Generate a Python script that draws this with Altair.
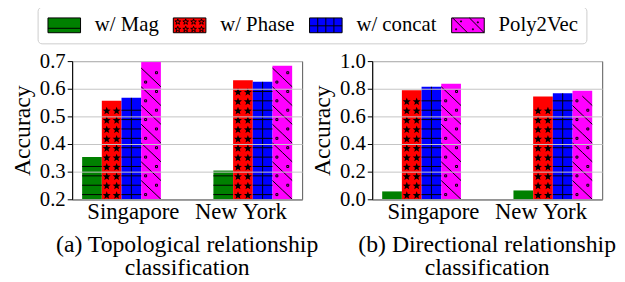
import math
import altair as alt
import pandas as pd

cities = ["Singapore", "New York"]
series = ["w/ Mag", "w/ Phase", "w/ concat", "Poly2Vec"]

topo_mag = [0.353, 0.304]
topo_phase = [0.557, 0.631]
topo_concat = [0.567, 0.625]
topo_poly = [0.699, 0.683]

dir_mag = [0.057, 0.064]
dir_phase = [0.790, 0.743]
dir_concat = [0.814, 0.767]
dir_poly = [0.836, 0.786]

colors = ["#008000", "#ff0000", "#0000ff", "#ff00ff"]

topo_ticks = [0.2, 0.3, 0.4, 0.5, 0.6, 0.7]
dir_ticks = [0.0, 0.2, 0.4, 0.6, 0.8, 1.0]
title_a = ["(a) Topological relationship", "classification"]
title_b = ["(b) Directional relationship", "classification"]

FONT = "Liberation Serif"
W, H = 233, 140
STRIP = 9.5  # hatch strip height in px


def star_path(cx, cy, R, r):
    pts = []
    for i in range(10):
        ang = -math.pi / 2 + i * math.pi / 5
        rad = R if i % 2 == 0 else r
        pts.append((cx + rad * math.cos(ang), cy + rad * math.sin(ang)))
    return "M" + "L".join(f"{x:.3f},{y:.3f}" for x, y in pts) + "Z"


def dot(x, y, d):
    return f"M{x:.3f},{y:.3f}h{d}v{d}h{-d}Z"


# hatch symbols for bars (unit = 10px, symbol size 400 -> 20px wide)
HLINE = "M-1,0H1"
STARS2 = star_path(-0.5, 0.08, 0.42, 0.18) + star_path(0.5, 0.08, 0.42, 0.18)
DIAG_UP = "M-1,-0.475L0,0.475" + dot(0.45, -0.1, 0.2)
DIAG_LO = "M0,-0.475L1,0.475" + dot(-0.65, -0.1, 0.2)

# legend swatches: drawn in px relative to the swatch's top-left corner (33 x 15),
# converted to symbol units (symbol size 225 -> unit 7.5px, centre 8px from entry left)
SW, SH = 33, 15
U, CX = 7.5, 8.0


def px(x, y):
    return f"{(x - CX) / U:.3f},{(y - SH / 2) / U:.3f}"


def swatch(extra):
    rect = f"M{px(0, 0)}L{px(SW, 0)}L{px(SW, SH)}L{px(0, SH)}Z"
    return rect + extra


def pstar(cx, cy, R, r):
    pts = []
    for i in range(10):
        ang = -math.pi / 2 + i * math.pi / 5
        rad = R if i % 2 == 0 else r
        pts.append(px(cx + rad * math.cos(ang), cy + rad * math.sin(ang)))
    return "M" + "L".join(pts) + "Z"


def pdot(x, y):
    return f"M{px(x, y)}L{px(x + 1, y)}L{px(x + 1, y + 1)}L{px(x, y + 1)}Z"


leg_mag = swatch(f"M{px(0, 10.5)}L{px(SW, 10.5)}")
leg_phase = swatch("".join(pstar(cx, cy, 3.0, 1.2) for cy in (4.0, 11.5) for cx in (4.5, 12.5, 20.5, 28.5)))
leg_concat = swatch(f"M{px(8.3, 0)}L{px(8.3, SH)}M{px(16.5, 0)}L{px(16.5, SH)}"
                    f"M{px(24.7, 0)}L{px(24.7, SH)}M{px(0, 8)}L{px(SW, 8)}")
leg_poly = swatch(f"M{px(1, 0)}L{px(16, SH)}M{px(18, 0)}L{px(33, SH)}"
                  + pdot(9, 3) + pdot(26, 4) + pdot(4, 11) + pdot(21, 11))
legend_paths = [leg_mag, leg_phase, leg_concat, leg_poly]

LEG_X, LEG_Y = -35, -55


def panel(vals, base, top, ticks, title_lines, with_legend):
    rows = []
    for s, v in zip(series, vals):
        for c, val in zip(cities, v):
            rows.append({"city": c, "series": s, "value": val})
    df = pd.DataFrame(rows)
    step = (top - base) * STRIP / H

    x = alt.X("city:N", sort=cities, title=None,
              scale=alt.Scale(paddingInner=0.4, paddingOuter=0.076),
              axis=alt.Axis(labelAngle=0, labelFontSize=23, ticks=False, domainColor="black",
                            labelPadding=1, grid=False, labelColor="black",
                            labelOffset={"condition": {"test": "datum.label == 'Singapore'", "value": 12},
                                         "value": -12}))
    xo = alt.XOffset("series:N", sort=series, scale=alt.Scale(paddingInner=0, paddingOuter=0))
    ysc = alt.Scale(domain=[base, top], nice=False, zero=False)
    yax = alt.Axis(values=ticks, format=".1f", title="Accuracy", zindex=1, grid=True,
                   gridColor="#c4c4c4", gridWidth=1, domainColor="black", tickColor="black",
                   tickSize=5, labelFontSize=21, labelPadding=2, labelColor="black",
                   titleFontSize=24, titlePadding=5, titleColor="black")

    leg = alt.Legend(title=None, orient="none", legendX=LEG_X, legendY=LEG_Y,
                     direction="horizontal", symbolSize=225,
                     symbolStrokeWidth=1, symbolOpacity=1,
                     labelFontSize=21, labelOffset=29, columnPadding=12,
                     padding=8, strokeColor="#cccccc", fillColor="white",
                     cornerRadius=4, labelColor="black")

    src = alt.Chart(df)
    bars = src.mark_bar().encode(
        x=x, xOffset=xo,
        y=alt.Y("value:Q", scale=ysc, axis=yax),
        y2=alt.datum(base),
        fill=alt.Fill("series:N", sort=series, scale=alt.Scale(domain=series, range=colors),
                      legend=None),
    )

    strips = (src
              .transform_calculate(k=f"sequence(0, floor((datum.value - {base}) / {step} + 1e-9))")
              .transform_flatten(["k"])
              .transform_calculate(yc=f"{base} + (datum.k + 0.5) * {step}", par="datum.k % 2"))
    yc = alt.Y("yc:Q", scale=ysc, axis=yax)

    def hatch(name, shape, filled, extra=None):
        c = strips.transform_filter(alt.datum.series == name)
        if extra is not None:
            c = c.transform_filter(extra)
        if filled:
            m = c.mark_point(shape=shape, size=400, filled=True, color="black", opacity=1, strokeWidth=0)
        else:
            m = c.mark_point(shape=shape, size=400, filled=False, color="black", opacity=1, strokeWidth=1)
        return m.encode(x=x, xOffset=xo, y=yc)

    layers = []
    if with_legend:
        layers.append(
            src.mark_point(filled=True, opacity=0, size=225, stroke="black", strokeWidth=1)
            .encode(x=x, xOffset=xo, y=alt.Y("value:Q", scale=ysc, axis=yax),
                    color=alt.Color("series:N", sort=series,
                                    scale=alt.Scale(domain=series, range=colors), legend=leg),
                    shape=alt.Shape("series:N", sort=series,
                                    scale=alt.Scale(domain=series, range=legend_paths), legend=leg))
        )
    layers += [
        bars,
        hatch("w/ Mag", HLINE, False),
        hatch("w/ Phase", STARS2, True),
        hatch("w/ concat", HLINE, False),
        src.transform_filter(alt.datum.series == "w/ concat").mark_rule(color="black", strokeWidth=1)
        .encode(x=x, xOffset=xo, y=alt.Y("value:Q", scale=ysc, axis=yax), y2=alt.datum(base)),
        hatch("Poly2Vec", DIAG_UP, False, "datum.par == 1"),
        hatch("Poly2Vec", DIAG_LO, False, "datum.par == 0"),
    ]
    return alt.layer(*layers).properties(
        width=W, height=H,
        title=alt.TitleParams(text=title_lines, orient="bottom", anchor="middle", frame="group",
                              fontSize=24, fontWeight="normal", font=FONT, color="black",
                              lineHeight=24, offset=10),
    )


left = panel([topo_mag, topo_phase, topo_concat, topo_poly], 0.2, 0.7, topo_ticks, title_a, True)
right = panel([dir_mag, dir_phase, dir_concat, dir_poly], 0.0, 1.0, dir_ticks, title_b, False)

chart = (alt.hconcat(left, right, spacing=71, bounds="flush")
         .resolve_scale(y="independent", color="shared", shape="shared", fill="shared")
         .properties(padding={"left": 2, "top": -4, "right": 0, "bottom": 0})
         .configure(font=FONT)
         .configure_view(stroke="#555555", strokeWidth=1)
         .configure_axis(labelFont=FONT, titleFont=FONT, titleFontWeight="normal")
         .configure_legend(labelFont=FONT))

chart.save("out.html", embed_options={"renderer": "svg", "actions": False})
